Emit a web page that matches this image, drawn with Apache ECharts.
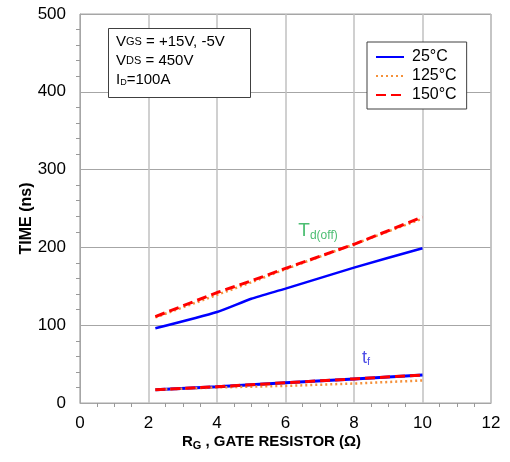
<!DOCTYPE html>
<html><head><meta charset="utf-8">
<script src="https://cdn.jsdelivr.net/npm/echarts@6/dist/echarts.min.js"></script>
<style>html,body{margin:0;padding:0;background:#fff}#c{width:510px;height:462px}</style>
</head><body><div id="c"></div>
<script>
var rg = [2.2, 4, 5, 6, 8, 10];
var td25 = [96, 117, 134, 147, 174, 199];
var td125 = [110, 139, 155, 172, 204, 237];
var td150 = [111, 142, 157, 173, 204, 239];
var rgF = [2.2, 4, 6, 8, 10];
var tf25 = [17, 21, 26, 31, 36];
var tf125 = [17, 20, 22, 25, 29];
var tf150 = [17, 21, 26, 31, 36];
var xTicks = [0, 2, 4, 6, 8, 10, 12];
var yTicks = [0, 100, 200, 300, 400, 500];
var tdLabelPos = [6.95, 222];
var tfLabelPos = [8.35, 58];

function pairs(xs, ys){ return xs.map(function(x,i){return [x, ys[i]];}); }
var font = 'Liberation Sans, Arial, sans-serif';
var chart = echarts.init(document.getElementById('c'));
var blue = '#0000ff', orange = '#f5913a', red = '#ff0000';
chart.setOption({
  animation: false,
  textStyle: {fontFamily: font},
  grid: {left: 80, right: 19, top: 14, bottom: 59, show: true, borderColor: '#a6a6a6', borderWidth: 1},
  legend: {
    left: 367, top: 42, orient: 'vertical',
    data: ['25°C', '125°C', '150°C'],
    backgroundColor: '#fff', borderColor: '#404040', borderWidth: 1,
    padding: [7, 10, 6, 8], itemGap: 3, itemWidth: 28, itemHeight: 16,
    itemStyle: {color: 'transparent', borderWidth: 0, opacity: 0},
    textStyle: {fontSize: 16, color: '#000', fontFamily: font, padding: [0, 0, 0, 3]}
  },
  xAxis: {
    type: 'value', min: xTicks[0], max: xTicks[xTicks.length-1], interval: 2,
    axisLine: {lineStyle: {color: '#a6a6a6'}},
    axisTick: {show: false},
    minorTick: {show: true, splitNumber: 4, length: 4, lineStyle: {color: '#999'}},
    axisLabel: {fontSize: 17, color: '#000', margin: 12},
    splitLine: {lineStyle: {color: '#c0c0c0', width: 1.5}},
    name: '{b|R}{s|G}{b| , GATE RESISTOR (Ω)}', nameLocation: 'middle', nameGap: 29, nameMoveOverlap: false,
    nameTextStyle: {padding: [0, 28, 0, 0], rich: {b: {fontSize: 15, fontWeight: 'bold', color: '#000', fontFamily: font}, s: {fontSize: 11, fontWeight: 'bold', color: '#000', padding: [8,0,0,0], fontFamily: font}}}
  },
  yAxis: {
    type: 'value', min: yTicks[0], max: yTicks[yTicks.length-1], interval: 100,
    axisLine: {show: true, lineStyle: {color: '#a6a6a6'}},
    axisTick: {show: false},
    minorTick: {show: true, splitNumber: 5, length: 4, lineStyle: {color: '#999'}},
    axisLabel: {fontSize: 17, color: '#000', margin: 14},
    splitLine: {lineStyle: {color: '#a6a6a6', width: 1}},
    name: 'TIME (ns)', nameLocation: 'middle', nameGap: 45, nameMoveOverlap: false,
    nameTextStyle: {fontSize: 16, fontWeight: 'bold', color: '#000', padding: [0, 20, 0, 0]}
  },
  series: [
    {name: '25°C', type: 'line', symbol: 'none', smooth: 0.2, data: pairs(rg, td25), lineStyle: {color: blue, width: 2.5}, itemStyle: {color: blue}},
    {name: '25°C', type: 'line', symbol: 'none', data: pairs(rgF, tf25), lineStyle: {color: blue, width: 3}, itemStyle: {color: blue}},
    {name: '125°C', type: 'line', symbol: 'none', data: pairs(rg, td125), lineStyle: {color: orange, width: 2.5, type: [2, 3]}, itemStyle: {color: orange}},
    {name: '125°C', type: 'line', symbol: 'none', data: pairs(rgF, tf125), lineStyle: {color: orange, width: 2.5, type: [2, 3]}, itemStyle: {color: orange}},
    {name: '150°C', type: 'line', symbol: 'none', data: pairs(rg, td150), lineStyle: {color: red, width: 3, type: [10, 5]}, itemStyle: {color: red}},
    {name: '150°C', type: 'line', symbol: 'none', data: pairs(rgF, tf150), lineStyle: {color: red, width: 3, type: [10, 5]}, itemStyle: {color: red}},
    {type: 'scatter', symbolSize: 0, silent: true, data: [tdLabelPos],
     label: {show: true, position: 'inside', formatter: '{t|T}{s|d(off)}',
       rich: {t: {fontSize: 19, color: '#1fae4f', fontFamily: font}, s: {fontSize: 12, color: '#1fae4f', padding: [10,0,0,0], fontFamily: font}}}},
    {type: 'scatter', symbolSize: 0, silent: true, data: [tfLabelPos],
     label: {show: true, position: 'inside', formatter: '{t|t}{s|f}',
       rich: {t: {fontSize: 18, color: '#2020e0', fontFamily: font}, s: {fontSize: 11, color: '#2020e0', padding: [9,0,0,0], fontFamily: font}}}}
  ],
  graphic: [
    {type: 'rect', left: 108, top: 28, shape: {width: 142, height: 69}, style: {fill: '#fff', stroke: '#404040', lineWidth: 1}, z: 10},
    {type: 'text', left: 116, top: 34, z: 11, style: {
      text: '{a|V}{b|GS}{a| = +15V, -5V}\n{a|V}{b|DS}{a| = 450V}\n{a|I}{c|D}{a|=100A}',
      rich: {a: {fontSize: 15, fontFamily: font, color: '#000', lineHeight: 19}, b: {fontSize: 11, fontFamily: font, color: '#000', lineHeight: 19}, c: {fontSize: 9, fontFamily: font, color: '#000', padding: [6,0,0,0], lineHeight: 19}}}}
  ]
});
</script></body></html>
